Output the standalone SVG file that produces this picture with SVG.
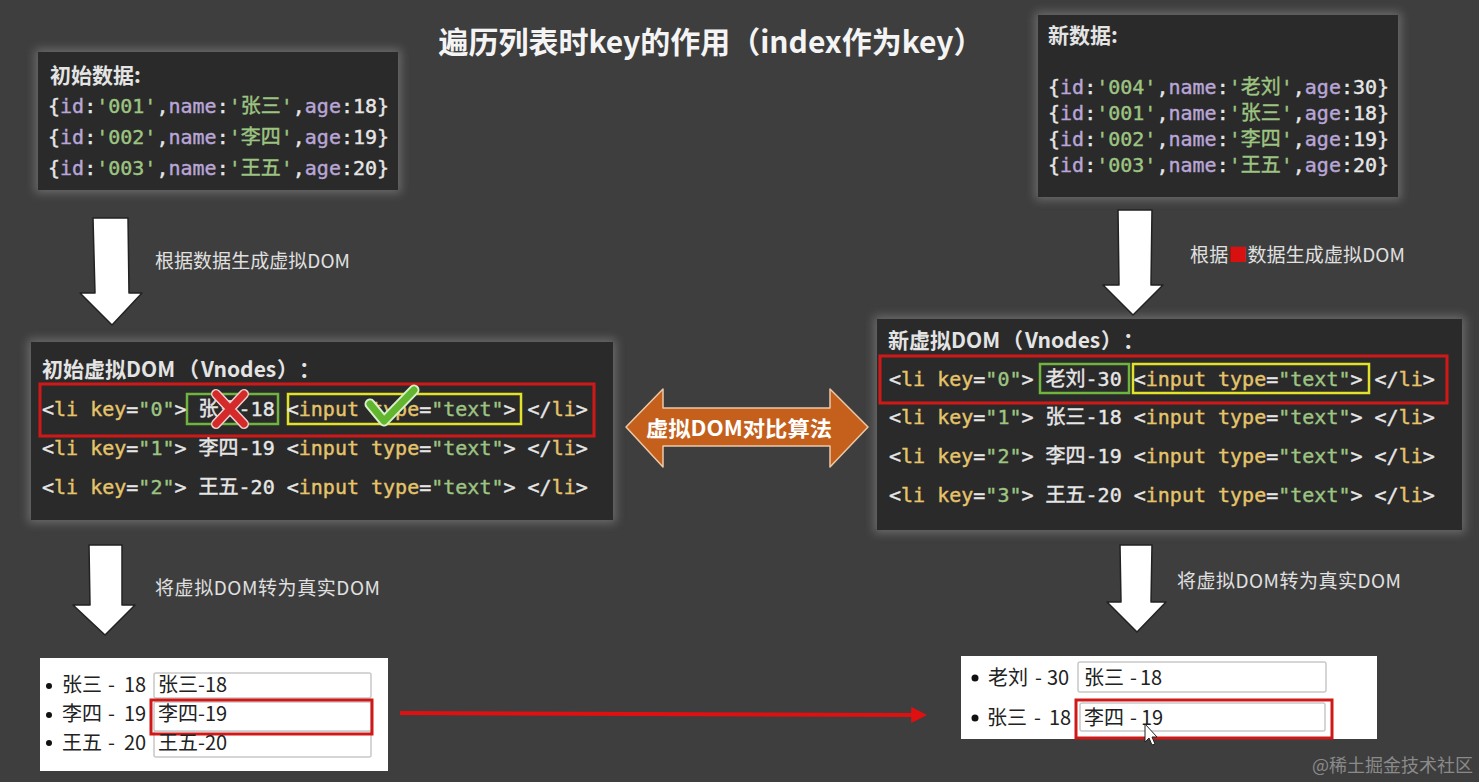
<svg xmlns="http://www.w3.org/2000/svg" width="1479" height="782" viewBox="0 0 1479 782">
<defs>
<style>
.bg{fill:#3e3e3e}
.panel{fill:#2c2c2c}
.code{font-family:"DejaVu Sans Mono","Noto Sans CJK SC",monospace;font-size:20px;fill:#e6e6e6;stroke-width:0.4}
.hd{font-family:"Noto Sans CJK SC","Noto Sans",sans-serif;font-weight:bold;font-size:21px;fill:#e4e4e4}
.lbl{font-family:"Noto Sans CJK SC","Noto Sans",sans-serif;font-size:19px;fill:#e0e0e0}
.y{fill:#e5c46a;stroke:#e5c46a}
.g{fill:#9dc482;stroke:#9dc482}
.p{fill:#b9a6d8;stroke:#b9a6d8}
.w{fill:#e6e6e6;stroke:#e6e6e6}
.dn{fill:#ffffff;stroke:#222;stroke-width:1.5;stroke-linejoin:round}
.page{fill:#ffffff}
.ptx{font-family:"Noto Sans CJK SC","Noto Sans",sans-serif;font-size:20px;fill:#222}
.inp{fill:#fff;stroke:#c8c8c8;stroke-width:1.5}
.redbox{fill:none;stroke:#d01818;stroke-width:3}
</style>
<filter id="glow" x="-10%" y="-20%" width="120%" height="140%">
<feMorphology in="SourceAlpha" operator="dilate" radius="3" result="d"/>
<feGaussianBlur in="d" stdDeviation="5" result="b"/>
<feFlood flood-color="#6a6a6a"/>
<feComposite in2="b" operator="in" result="gl"/>
<feMerge><feMergeNode in="gl"/><feMergeNode in="SourceGraphic"/></feMerge>
</filter>
<marker id="redhead" viewBox="0 0 10 10" refX="8" refY="5" markerWidth="4" markerHeight="4" orient="auto">
<path d="M0,0 L10,5 L0,10 z" fill="#e01010"/>
</marker>
</defs>
<rect class="bg" x="0" y="0" width="1479" height="782"/>

<g id="title">
<text x="711" y="53" text-anchor="middle" font-family="Noto Sans CJK SC, sans-serif" font-weight="bold" font-size="30" fill="#f4f4f4">遍历列表时key的作用（index作为key）</text>
</g>

<g id="init-data">
<rect class="panel" x="38" y="52" width="360" height="138" filter="url(#glow)"/>
<text class="hd" x="50" y="83">初始数据:</text>
<text class="code" x="48" y="113" xml:space="preserve"><tspan class="w">{</tspan><tspan class="p">id</tspan><tspan class="w">:</tspan><tspan class="g">'001'</tspan><tspan class="w">,</tspan><tspan class="p">name</tspan><tspan class="w">:</tspan><tspan class="g">'张三'</tspan><tspan class="w">,</tspan><tspan class="p">age</tspan><tspan class="w">:18}</tspan></text>
<text class="code" x="48" y="144" xml:space="preserve"><tspan class="w">{</tspan><tspan class="p">id</tspan><tspan class="w">:</tspan><tspan class="g">'002'</tspan><tspan class="w">,</tspan><tspan class="p">name</tspan><tspan class="w">:</tspan><tspan class="g">'李四'</tspan><tspan class="w">,</tspan><tspan class="p">age</tspan><tspan class="w">:19}</tspan></text>
<text class="code" x="48" y="175" xml:space="preserve"><tspan class="w">{</tspan><tspan class="p">id</tspan><tspan class="w">:</tspan><tspan class="g">'003'</tspan><tspan class="w">,</tspan><tspan class="p">name</tspan><tspan class="w">:</tspan><tspan class="g">'王五'</tspan><tspan class="w">,</tspan><tspan class="p">age</tspan><tspan class="w">:20}</tspan></text>
</g>

<g id="new-data">
<rect class="panel" x="1038" y="15" width="360" height="182" filter="url(#glow)"/>
<text class="hd" x="1048" y="43">新数据:</text>
<text class="code" x="1048" y="94" xml:space="preserve"><tspan class="w">{</tspan><tspan class="p">id</tspan><tspan class="w">:</tspan><tspan class="g">'004'</tspan><tspan class="w">,</tspan><tspan class="p">name</tspan><tspan class="w">:</tspan><tspan class="g">'老刘'</tspan><tspan class="w">,</tspan><tspan class="p">age</tspan><tspan class="w">:30}</tspan></text>
<text class="code" x="1048" y="120" xml:space="preserve"><tspan class="w">{</tspan><tspan class="p">id</tspan><tspan class="w">:</tspan><tspan class="g">'001'</tspan><tspan class="w">,</tspan><tspan class="p">name</tspan><tspan class="w">:</tspan><tspan class="g">'张三'</tspan><tspan class="w">,</tspan><tspan class="p">age</tspan><tspan class="w">:18}</tspan></text>
<text class="code" x="1048" y="146" xml:space="preserve"><tspan class="w">{</tspan><tspan class="p">id</tspan><tspan class="w">:</tspan><tspan class="g">'002'</tspan><tspan class="w">,</tspan><tspan class="p">name</tspan><tspan class="w">:</tspan><tspan class="g">'李四'</tspan><tspan class="w">,</tspan><tspan class="p">age</tspan><tspan class="w">:19}</tspan></text>
<text class="code" x="1048" y="172" xml:space="preserve"><tspan class="w">{</tspan><tspan class="p">id</tspan><tspan class="w">:</tspan><tspan class="g">'003'</tspan><tspan class="w">,</tspan><tspan class="p">name</tspan><tspan class="w">:</tspan><tspan class="g">'王五'</tspan><tspan class="w">,</tspan><tspan class="p">age</tspan><tspan class="w">:20}</tspan></text>
</g>

<g id="init-vdom">
<rect class="panel" x="31" y="342" width="582" height="178" filter="url(#glow)"/>
<text class="hd" y="377" font-size="22"><tspan x="42">初始虚拟DOM</tspan><tspan x="178">（</tspan><tspan x="201">Vnodes</tspan><tspan x="277">）</tspan><tspan x="299">：</tspan></text>
<rect class="redbox" x="40" y="384" width="554" height="52"/>
<rect x="187" y="394" width="91" height="30" fill="none" stroke="#6fb43f" stroke-width="2.5"/>
<rect x="288" y="394" width="233" height="30" fill="none" stroke="#e2e22a" stroke-width="2.5"/>
<text class="code" x="42" y="416" xml:space="preserve"><tspan class="w">&lt;</tspan><tspan class="y">li key</tspan><tspan class="w">=</tspan><tspan class="g">"0"</tspan><tspan class="w">&gt; 张三-18 &lt;</tspan><tspan class="y">input type</tspan><tspan class="w">=</tspan><tspan class="g">"text"</tspan><tspan class="w">&gt; &lt;/</tspan><tspan class="y">li</tspan><tspan class="w">&gt;</tspan></text>
<text class="code" x="42" y="455" xml:space="preserve"><tspan class="w">&lt;</tspan><tspan class="y">li key</tspan><tspan class="w">=</tspan><tspan class="g">"1"</tspan><tspan class="w">&gt; 李四-19 &lt;</tspan><tspan class="y">input type</tspan><tspan class="w">=</tspan><tspan class="g">"text"</tspan><tspan class="w">&gt; &lt;/</tspan><tspan class="y">li</tspan><tspan class="w">&gt;</tspan></text>
<text class="code" x="42" y="494" xml:space="preserve"><tspan class="w">&lt;</tspan><tspan class="y">li key</tspan><tspan class="w">=</tspan><tspan class="g">"2"</tspan><tspan class="w">&gt; 王五-20 &lt;</tspan><tspan class="y">input type</tspan><tspan class="w">=</tspan><tspan class="g">"text"</tspan><tspan class="w">&gt; &lt;/</tspan><tspan class="y">li</tspan><tspan class="w">&gt;</tspan></text>
<g id="cross">
<path d="M216,394 L244,424 M244,394 L216,424" stroke="#f0d0d0" stroke-width="10" stroke-linecap="round"/>
<path d="M216,394 L244,424 M244,394 L216,424" stroke="#d42a2a" stroke-width="7" stroke-linecap="round"/>
</g>
<g id="check">
<path d="M370,404 L384,421 L414,390" fill="none" stroke="#d8f0c8" stroke-width="11" stroke-linecap="round" stroke-linejoin="round"/>
<path d="M370,404 L384,421 L414,390" fill="none" stroke="#62b52e" stroke-width="7" stroke-linecap="round" stroke-linejoin="round"/>
</g>
</g>

<g id="new-vdom">
<rect class="panel" x="877" y="319" width="585" height="211" filter="url(#glow)"/>
<text class="hd" y="348" font-size="22"><tspan x="888">新虚拟DOM</tspan><tspan x="1002">（</tspan><tspan x="1025">Vnodes</tspan><tspan x="1101">）</tspan><tspan x="1123">：</tspan></text>
<rect class="redbox" x="880" y="356" width="567" height="47"/>
<rect x="1040" y="364" width="89" height="29" fill="none" stroke="#6fb43f" stroke-width="2.5"/>
<rect x="1133" y="364" width="236" height="29" fill="none" stroke="#e2e22a" stroke-width="2.5"/>
<text class="code" x="889" y="386" xml:space="preserve"><tspan class="w">&lt;</tspan><tspan class="y">li key</tspan><tspan class="w">=</tspan><tspan class="g">"0"</tspan><tspan class="w">&gt; 老刘-30 &lt;</tspan><tspan class="y">input type</tspan><tspan class="w">=</tspan><tspan class="g">"text"</tspan><tspan class="w">&gt; &lt;/</tspan><tspan class="y">li</tspan><tspan class="w">&gt;</tspan></text>
<text class="code" x="889" y="424" xml:space="preserve"><tspan class="w">&lt;</tspan><tspan class="y">li key</tspan><tspan class="w">=</tspan><tspan class="g">"1"</tspan><tspan class="w">&gt; 张三-18 &lt;</tspan><tspan class="y">input type</tspan><tspan class="w">=</tspan><tspan class="g">"text"</tspan><tspan class="w">&gt; &lt;/</tspan><tspan class="y">li</tspan><tspan class="w">&gt;</tspan></text>
<text class="code" x="889" y="463" xml:space="preserve"><tspan class="w">&lt;</tspan><tspan class="y">li key</tspan><tspan class="w">=</tspan><tspan class="g">"2"</tspan><tspan class="w">&gt; 李四-19 &lt;</tspan><tspan class="y">input type</tspan><tspan class="w">=</tspan><tspan class="g">"text"</tspan><tspan class="w">&gt; &lt;/</tspan><tspan class="y">li</tspan><tspan class="w">&gt;</tspan></text>
<text class="code" x="889" y="502" xml:space="preserve"><tspan class="w">&lt;</tspan><tspan class="y">li key</tspan><tspan class="w">=</tspan><tspan class="g">"3"</tspan><tspan class="w">&gt; 王五-20 &lt;</tspan><tspan class="y">input type</tspan><tspan class="w">=</tspan><tspan class="g">"text"</tspan><tspan class="w">&gt; &lt;/</tspan><tspan class="y">li</tspan><tspan class="w">&gt;</tspan></text>
</g>

<g id="real-dom-old">
<rect class="page" x="40" y="658" width="348" height="113"/>
<circle cx="49" cy="686" r="3" fill="#111"/>
<circle cx="49" cy="715" r="3" fill="#111"/>
<circle cx="49" cy="743" r="3" fill="#111"/>
<text class="ptx" y="692"><tspan x="62">张三</tspan><tspan x="108">-</tspan><tspan x="124">18</tspan></text>
<text class="ptx" y="721"><tspan x="62">李四</tspan><tspan x="108">-</tspan><tspan x="124">19</tspan></text>
<text class="ptx" y="750"><tspan x="62">王五</tspan><tspan x="108">-</tspan><tspan x="124">20</tspan></text>
<rect class="inp" x="154" y="673" width="217" height="25" rx="2"/>
<rect class="inp" x="154" y="731" width="217" height="26" rx="2"/>
<rect class="inp" x="154" y="702" width="217" height="29" rx="2"/>
<rect class="redbox" x="151" y="700" width="221" height="34"/>
<text class="ptx" x="158" y="692">张三-18</text>
<text class="ptx" x="158" y="721">李四-19</text>
<text class="ptx" x="158" y="750">王五-20</text>
</g>

<g id="real-dom-new">
<rect class="page" x="961" y="656" width="416" height="83"/>
<circle cx="975" cy="678" r="3.5" fill="#111"/>
<circle cx="975" cy="718" r="3.5" fill="#111"/>
<text class="ptx" y="685"><tspan x="988">老刘</tspan><tspan x="1035">-</tspan><tspan x="1047">30</tspan></text>
<text class="ptx" y="725"><tspan x="987">张三</tspan><tspan x="1034">-</tspan><tspan x="1049">18</tspan></text>
<rect class="inp" x="1078" y="662" width="248" height="30" rx="2"/>
<rect class="inp" x="1080" y="703" width="245" height="28" rx="2"/>
<rect class="redbox" x="1076" y="700" width="256" height="38"/>
<text class="ptx" y="685"><tspan x="1084">张三</tspan><tspan x="1130">-</tspan><tspan x="1140">18</tspan></text>
<text class="ptx" y="725"><tspan x="1084">李四</tspan><tspan x="1130">-</tspan><tspan x="1141">19</tspan></text>
<path d="M1145,724 L1145,742 L1149,738 L1152,745 L1155,744 L1152,737 L1157,737 Z" fill="#fff" stroke="#222" stroke-width="1"/>
</g>

<g id="compare">
<polygon points="626,427 663,389 663,408 830,408 830,389 868,427 830,467 830,446 663,446 663,467" fill="#c5601c" stroke="#ecc9a6" stroke-width="1.5" stroke-linejoin="round"/>
<text x="739" y="436" text-anchor="middle" font-family="Noto Sans CJK SC, sans-serif" font-weight="bold" font-size="21" fill="#ffffff" textLength="186" lengthAdjust="spacingAndGlyphs">虚拟DOM对比算法</text>
</g>

<g id="connectors">
<polygon class="dn" points="93,218 128,218 129,293 142,293 112,325 80,293 95,293"/>
<polygon class="dn" points="89,545 122,545 122,605 135,605 105,635 73,605 90,605"/>
<polygon class="dn" points="1118,210 1152,210 1151,285 1163,285 1133,315 1103,285 1119,285"/>
<polygon class="dn" points="1120,545 1152,545 1151,602 1166,602 1137,632 1107,602 1121,602"/>
<line x1="400" y1="713" x2="924" y2="715" stroke="#e01010" stroke-width="4" marker-end="url(#redhead)"/>
</g>

<g id="labels">
<text class="lbl" x="155" y="268" textLength="195" lengthAdjust="spacing">根据数据生成虚拟DOM</text>
<text class="lbl" x="1190" y="262" textLength="215" lengthAdjust="spacing">根据<tspan fill="#d81010">■</tspan>数据生成虚拟DOM</text>
<text class="lbl" x="155" y="595" textLength="225" lengthAdjust="spacing">将虚拟DOM转为真实DOM</text>
<text class="lbl" x="1177" y="588" textLength="224" lengthAdjust="spacing">将虚拟DOM转为真实DOM</text>
</g>

<text x="1312" y="772" font-family="Noto Sans CJK SC, sans-serif" font-size="18" fill="#8a8a8a">@稀土掘金技术社区</text>
</svg>
